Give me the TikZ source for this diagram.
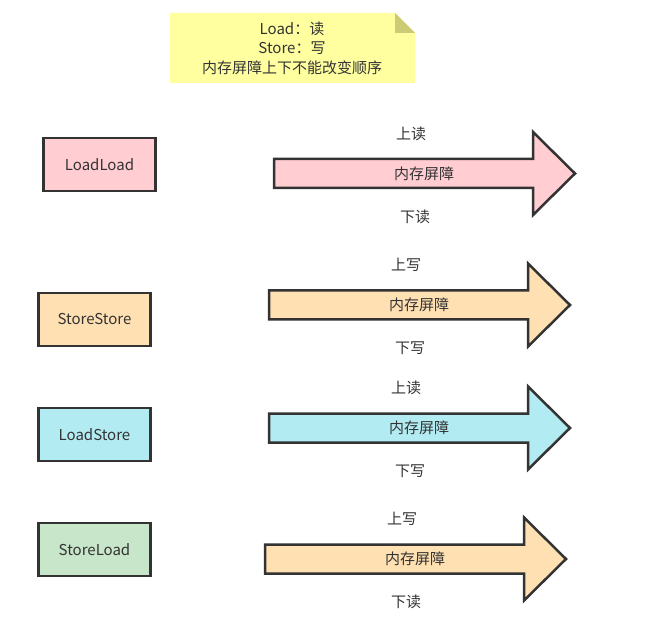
\documentclass[tikz,border=0pt]{standalone}
\usepackage{fontspec}
\setmainfont{Noto Sans CJK SC}
\usetikzlibrary{positioning}
\definecolor{linegray}{HTML}{333333}
\definecolor{textgray}{HTML}{333333}
\definecolor{pinkbg}{HTML}{FFCDD2}
\definecolor{orangebg}{HTML}{FFE0B2}
\definecolor{cyanbg}{HTML}{B2EBF2}
\definecolor{greenbg}{HTML}{C8E6C9}
\definecolor{notebg}{HTML}{FFFFA0}
\definecolor{notefold}{HTML}{CCCC77}
\begin{document}
\begin{tikzpicture}[x=1pt,y=-1pt,font=\fontsize{15}{19.5}\selectfont,text=textgray]
        \tikzstyle{op}=[rectangle,draw=linegray,line width=2.5pt,minimum width=112pt,minimum height=53pt]
        \tikzstyle{barrier}=[draw=linegray,line width=2.5pt]
        \tikzstyle{side}=[inner sep=1pt]
        \useasboundingbox (0,0) rectangle (664,628);
       % note
       \begin{scope}
         \fill[notebg] (170,13) -- (395,13) -- (415,33) -- (415,83) -- (170,83) -- cycle;
         \fill[notefold] (395,13) -- (415,33) -- (395,33) -- cycle;
         \node [align=center] (note) at (292,48) {Load：读\\Store：写\\内存屏障上下不能改变顺序};
       \end{scope}
       % barriers
       \foreach \bx/\by/\bcol/\L/\C/\col/\up/\down/\name in {99.5/164.5/pinkbg/274/173.5/pinkbg/上读/下读/LoadLoad,
           94.5/319.5/orangebg/269/305/orangebg/上写/下写/StoreStore,
           94.5/434.5/cyanbg/269/428/cyanbg/上读/下写/LoadStore,
           94.5/549.5/greenbg/265/559/orangebg/上写/下读/StoreLoad}
       {
         \node [op,fill=\bcol] (box\name) at (\bx,\by) {\name};
         \draw[barrier,fill=\col] (\L,\C-14.5) -- (\L+259,\C-14.5) -- (\L+259,\C-41.5) -- (\L+301,\C)
             -- (\L+259,\C+41.5) -- (\L+259,\C+14.5) -- (\L,\C+14.5) -- cycle;
         \node (bar\name) at (\L+150,\C) {内存屏障};
         \node [side] (up\name) at (\L+137,\C-40) {\up};
         \node [side] (down\name) at (\L+141,\C+43) {\down};
       }
      \end{tikzpicture}
\end{document}
